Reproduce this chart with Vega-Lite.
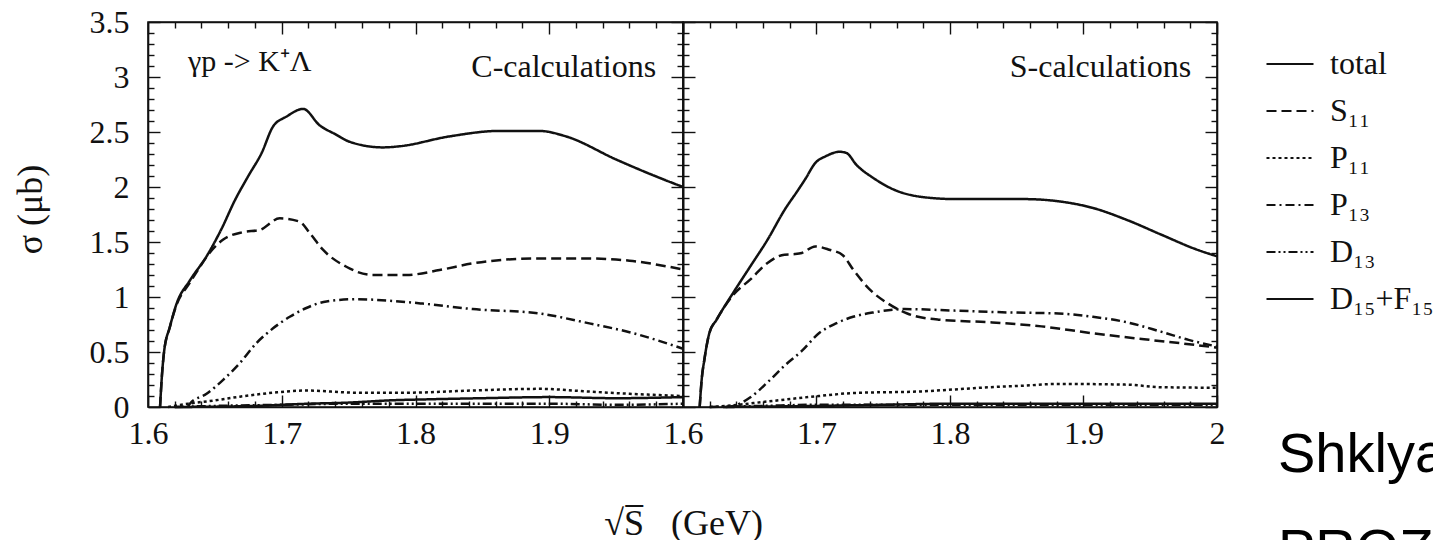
{
  "$schema": "https://vega.github.io/schema/vega-lite/v6.json",
  "autosize": "none",
  "padding": {"left": 148, "top": 22, "right": 1285, "bottom": 518},
  "background": "white",
  "config": {
    "axis": {"domainColor": "#111", "domainWidth": 1.6, "tickColor": "#111", "tickWidth": 1.4, "labelFont": "Liberation Serif", "labelFontSize": 32, "labelColor": "#111", "titleFont": "Liberation Serif", "titleFontSize": 36, "titleFontWeight": "normal", "titleColor": "#111", "grid": false, "labelOverlap": false, "labelFlush": false},
    "view": {"stroke": "#111", "strokeWidth": 1.6}
  },
  "datasets": {
    "note": [{}],
    "cCalc": [
      {"comp": "total", "s": 1.609, "sigma": 0}, {"comp": "total", "s": 1.6105, "sigma": 0.3}, {"comp": "total", "s": 1.612, "sigma": 0.5}, {"comp": "total", "s": 1.6164, "sigma": 0.73}, {"comp": "total", "s": 1.6214, "sigma": 0.94}, {"comp": "total", "s": 1.6313, "sigma": 1.15}, {"comp": "total", "s": 1.6438, "sigma": 1.37}, {"comp": "total", "s": 1.655, "sigma": 1.62}, {"comp": "total", "s": 1.665, "sigma": 1.88}, {"comp": "total", "s": 1.675, "sigma": 2.1}, {"comp": "total", "s": 1.685, "sigma": 2.31}, {"comp": "total", "s": 1.6935, "sigma": 2.55}, {"comp": "total", "s": 1.7035, "sigma": 2.64}, {"comp": "total", "s": 1.716, "sigma": 2.71}, {"comp": "total", "s": 1.7284, "sigma": 2.56}, {"comp": "total", "s": 1.74, "sigma": 2.48}, {"comp": "total", "s": 1.751, "sigma": 2.41}, {"comp": "total", "s": 1.7756, "sigma": 2.36}, {"comp": "total", "s": 1.788, "sigma": 2.37}, {"comp": "total", "s": 1.8254, "sigma": 2.46}, {"comp": "total", "s": 1.8627, "sigma": 2.51}, {"comp": "total", "s": 1.8925, "sigma": 2.51}, {"comp": "total", "s": 1.9125, "sigma": 2.46}, {"comp": "total", "s": 1.95, "sigma": 2.25}, {"comp": "total", "s": 1.975, "sigma": 2.12}, {"comp": "total", "s": 2.0, "sigma": 2.0},
      {"comp": "S₁₁", "s": 1.609, "sigma": 0}, {"comp": "S₁₁", "s": 1.6105, "sigma": 0.3}, {"comp": "S₁₁", "s": 1.612, "sigma": 0.5}, {"comp": "S₁₁", "s": 1.6164, "sigma": 0.73}, {"comp": "S₁₁", "s": 1.6214, "sigma": 0.93}, {"comp": "S₁₁", "s": 1.6313, "sigma": 1.13}, {"comp": "S₁₁", "s": 1.6375, "sigma": 1.25}, {"comp": "S₁₁", "s": 1.646, "sigma": 1.4}, {"comp": "S₁₁", "s": 1.656, "sigma": 1.52}, {"comp": "S₁₁", "s": 1.671, "sigma": 1.59}, {"comp": "S₁₁", "s": 1.6836, "sigma": 1.61}, {"comp": "S₁₁", "s": 1.6985, "sigma": 1.715}, {"comp": "S₁₁", "s": 1.7134, "sigma": 1.685}, {"comp": "S₁₁", "s": 1.721, "sigma": 1.58}, {"comp": "S₁₁", "s": 1.7308, "sigma": 1.43}, {"comp": "S₁₁", "s": 1.7483, "sigma": 1.275}, {"comp": "S₁₁", "s": 1.768, "sigma": 1.2}, {"comp": "S₁₁", "s": 1.793, "sigma": 1.2}, {"comp": "S₁₁", "s": 1.818, "sigma": 1.245}, {"comp": "S₁₁", "s": 1.8428, "sigma": 1.306}, {"comp": "S₁₁", "s": 1.8677, "sigma": 1.34}, {"comp": "S₁₁", "s": 1.8925, "sigma": 1.35}, {"comp": "S₁₁", "s": 1.93, "sigma": 1.35}, {"comp": "S₁₁", "s": 1.96, "sigma": 1.33}, {"comp": "S₁₁", "s": 2.0, "sigma": 1.25},
      {"comp": "P₁₃", "s": 1.63, "sigma": 0}, {"comp": "P₁₃", "s": 1.6313, "sigma": 0.03}, {"comp": "P₁₃", "s": 1.6438, "sigma": 0.12}, {"comp": "P₁₃", "s": 1.656, "sigma": 0.245}, {"comp": "P₁₃", "s": 1.6687, "sigma": 0.4}, {"comp": "P₁₃", "s": 1.681, "sigma": 0.58}, {"comp": "P₁₃", "s": 1.6935, "sigma": 0.715}, {"comp": "P₁₃", "s": 1.706, "sigma": 0.82}, {"comp": "P₁₃", "s": 1.7184, "sigma": 0.9}, {"comp": "P₁₃", "s": 1.7334, "sigma": 0.96}, {"comp": "P₁₃", "s": 1.7557, "sigma": 0.98}, {"comp": "P₁₃", "s": 1.7806, "sigma": 0.966}, {"comp": "P₁₃", "s": 1.8054, "sigma": 0.94}, {"comp": "P₁₃", "s": 1.8428, "sigma": 0.89}, {"comp": "P₁₃", "s": 1.8925, "sigma": 0.85}, {"comp": "P₁₃", "s": 1.93, "sigma": 0.76}, {"comp": "P₁₃", "s": 1.96, "sigma": 0.68}, {"comp": "P₁₃", "s": 2.0, "sigma": 0.53},
      {"comp": "P₁₁", "s": 1.615, "sigma": 0}, {"comp": "P₁₁", "s": 1.63, "sigma": 0.03}, {"comp": "P₁₁", "s": 1.65, "sigma": 0.06}, {"comp": "P₁₁", "s": 1.6687, "sigma": 0.094}, {"comp": "P₁₁", "s": 1.6935, "sigma": 0.13}, {"comp": "P₁₁", "s": 1.718, "sigma": 0.15}, {"comp": "P₁₁", "s": 1.7557, "sigma": 0.13}, {"comp": "P₁₁", "s": 1.793, "sigma": 0.13}, {"comp": "P₁₁", "s": 1.8428, "sigma": 0.15}, {"comp": "P₁₁", "s": 1.8925, "sigma": 0.165}, {"comp": "P₁₁", "s": 1.93, "sigma": 0.14}, {"comp": "P₁₁", "s": 1.96, "sigma": 0.12}, {"comp": "P₁₁", "s": 2.0, "sigma": 0.1},
      {"comp": "D₁₃", "s": 1.62, "sigma": 0}, {"comp": "D₁₃", "s": 1.65, "sigma": 0.01}, {"comp": "D₁₃", "s": 1.7, "sigma": 0.02}, {"comp": "D₁₃", "s": 1.75, "sigma": 0.03}, {"comp": "D₁₃", "s": 1.8, "sigma": 0.03}, {"comp": "D₁₃", "s": 1.85, "sigma": 0.03}, {"comp": "D₁₃", "s": 1.9, "sigma": 0.03}, {"comp": "D₁₃", "s": 1.95, "sigma": 0.02}, {"comp": "D₁₃", "s": 2.0, "sigma": 0.03},
      {"comp": "D₁₅+F₁₅", "s": 1.62, "sigma": 0}, {"comp": "D₁₅+F₁₅", "s": 1.68, "sigma": 0.01}, {"comp": "D₁₅+F₁₅", "s": 1.7, "sigma": 0.02}, {"comp": "D₁₅+F₁₅", "s": 1.72, "sigma": 0.03}, {"comp": "D₁₅+F₁₅", "s": 1.75, "sigma": 0.04}, {"comp": "D₁₅+F₁₅", "s": 1.78, "sigma": 0.06}, {"comp": "D₁₅+F₁₅", "s": 1.81, "sigma": 0.07}, {"comp": "D₁₅+F₁₅", "s": 1.85, "sigma": 0.08}, {"comp": "D₁₅+F₁₅", "s": 1.9, "sigma": 0.09}, {"comp": "D₁₅+F₁₅", "s": 1.95, "sigma": 0.08}, {"comp": "D₁₅+F₁₅", "s": 2.0, "sigma": 0.09}
    ],
    "sCalc": [
      {"comp": "total", "s": 1.6125, "sigma": 0}, {"comp": "total", "s": 1.614, "sigma": 0.25}, {"comp": "total", "s": 1.616, "sigma": 0.43}, {"comp": "total", "s": 1.6197, "sigma": 0.67}, {"comp": "total", "s": 1.625, "sigma": 0.79}, {"comp": "total", "s": 1.6377, "sigma": 1.04}, {"comp": "total", "s": 1.6505, "sigma": 1.28}, {"comp": "total", "s": 1.6633, "sigma": 1.52}, {"comp": "total", "s": 1.676, "sigma": 1.79}, {"comp": "total", "s": 1.6864, "sigma": 1.976}, {"comp": "total", "s": 1.6915, "sigma": 2.07}, {"comp": "total", "s": 1.6992, "sigma": 2.22}, {"comp": "total", "s": 1.707, "sigma": 2.28}, {"comp": "total", "s": 1.7172, "sigma": 2.32}, {"comp": "total", "s": 1.7223, "sigma": 2.31}, {"comp": "total", "s": 1.73, "sigma": 2.2}, {"comp": "total", "s": 1.7428, "sigma": 2.08}, {"comp": "total", "s": 1.758, "sigma": 1.976}, {"comp": "total", "s": 1.7787, "sigma": 1.91}, {"comp": "total", "s": 1.8044, "sigma": 1.89}, {"comp": "total", "s": 1.83, "sigma": 1.89}, {"comp": "total", "s": 1.8556, "sigma": 1.89}, {"comp": "total", "s": 1.8813, "sigma": 1.87}, {"comp": "total", "s": 1.9069, "sigma": 1.81}, {"comp": "total", "s": 1.9326, "sigma": 1.7}, {"comp": "total", "s": 1.9582, "sigma": 1.567}, {"comp": "total", "s": 1.9838, "sigma": 1.436}, {"comp": "total", "s": 2.0, "sigma": 1.37},
      {"comp": "S₁₁", "s": 1.6125, "sigma": 0}, {"comp": "S₁₁", "s": 1.614, "sigma": 0.25}, {"comp": "S₁₁", "s": 1.616, "sigma": 0.43}, {"comp": "S₁₁", "s": 1.6197, "sigma": 0.67}, {"comp": "S₁₁", "s": 1.625, "sigma": 0.79}, {"comp": "S₁₁", "s": 1.6377, "sigma": 1.02}, {"comp": "S₁₁", "s": 1.6505, "sigma": 1.16}, {"comp": "S₁₁", "s": 1.6633, "sigma": 1.31}, {"comp": "S₁₁", "s": 1.676, "sigma": 1.385}, {"comp": "S₁₁", "s": 1.6838, "sigma": 1.39}, {"comp": "S₁₁", "s": 1.689, "sigma": 1.4}, {"comp": "S₁₁", "s": 1.699, "sigma": 1.46}, {"comp": "S₁₁", "s": 1.7095, "sigma": 1.43}, {"comp": "S₁₁", "s": 1.7197, "sigma": 1.38}, {"comp": "S₁₁", "s": 1.7274, "sigma": 1.25}, {"comp": "S₁₁", "s": 1.74, "sigma": 1.067}, {"comp": "S₁₁", "s": 1.753, "sigma": 0.945}, {"comp": "S₁₁", "s": 1.768, "sigma": 0.85}, {"comp": "S₁₁", "s": 1.7915, "sigma": 0.794}, {"comp": "S₁₁", "s": 1.83, "sigma": 0.77}, {"comp": "S₁₁", "s": 1.8685, "sigma": 0.733}, {"comp": "S₁₁", "s": 1.907, "sigma": 0.67}, {"comp": "S₁₁", "s": 1.9454, "sigma": 0.616}, {"comp": "S₁₁", "s": 1.9838, "sigma": 0.564}, {"comp": "S₁₁", "s": 2.0, "sigma": 0.54},
      {"comp": "P₁₃", "s": 1.632, "sigma": 0}, {"comp": "P₁₃", "s": 1.638, "sigma": 0.01}, {"comp": "P₁₃", "s": 1.6505, "sigma": 0.088}, {"comp": "P₁₃", "s": 1.6633, "sigma": 0.224}, {"comp": "P₁₃", "s": 1.676, "sigma": 0.375}, {"comp": "P₁₃", "s": 1.689, "sigma": 0.51}, {"comp": "P₁₃", "s": 1.7018, "sigma": 0.67}, {"comp": "P₁₃", "s": 1.7146, "sigma": 0.76}, {"comp": "P₁₃", "s": 1.7274, "sigma": 0.82}, {"comp": "P₁₃", "s": 1.7428, "sigma": 0.86}, {"comp": "P₁₃", "s": 1.766, "sigma": 0.89}, {"comp": "P₁₃", "s": 1.8044, "sigma": 0.876}, {"comp": "P₁₃", "s": 1.8428, "sigma": 0.86}, {"comp": "P₁₃", "s": 1.8813, "sigma": 0.85}, {"comp": "P₁₃", "s": 1.907, "sigma": 0.82}, {"comp": "P₁₃", "s": 1.9326, "sigma": 0.77}, {"comp": "P₁₃", "s": 1.958, "sigma": 0.685}, {"comp": "P₁₃", "s": 1.9787, "sigma": 0.61}, {"comp": "P₁₃", "s": 2.0, "sigma": 0.55},
      {"comp": "P₁₁", "s": 1.62, "sigma": 0}, {"comp": "P₁₁", "s": 1.6326, "sigma": 0.01}, {"comp": "P₁₁", "s": 1.6633, "sigma": 0.05}, {"comp": "P₁₁", "s": 1.7018, "sigma": 0.1}, {"comp": "P₁₁", "s": 1.7274, "sigma": 0.127}, {"comp": "P₁₁", "s": 1.7787, "sigma": 0.142}, {"comp": "P₁₁", "s": 1.804, "sigma": 0.16}, {"comp": "P₁₁", "s": 1.83, "sigma": 0.18}, {"comp": "P₁₁", "s": 1.8556, "sigma": 0.194}, {"comp": "P₁₁", "s": 1.88, "sigma": 0.21}, {"comp": "P₁₁", "s": 1.9326, "sigma": 0.203}, {"comp": "P₁₁", "s": 1.958, "sigma": 0.18}, {"comp": "P₁₁", "s": 2.0, "sigma": 0.175},
      {"comp": "D₁₃", "s": 1.62, "sigma": 0}, {"comp": "D₁₃", "s": 1.66, "sigma": 0.01}, {"comp": "D₁₃", "s": 1.7, "sigma": 0.02}, {"comp": "D₁₃", "s": 1.75, "sigma": 0.02}, {"comp": "D₁₃", "s": 1.8, "sigma": 0.02}, {"comp": "D₁₃", "s": 1.85, "sigma": 0.02}, {"comp": "D₁₃", "s": 1.9, "sigma": 0.02}, {"comp": "D₁₃", "s": 1.95, "sigma": 0.02}, {"comp": "D₁₃", "s": 2.0, "sigma": 0.02},
      {"comp": "D₁₅+F₁₅", "s": 1.63, "sigma": 0}, {"comp": "D₁₅+F₁₅", "s": 1.7, "sigma": 0.01}, {"comp": "D₁₅+F₁₅", "s": 1.75, "sigma": 0.02}, {"comp": "D₁₅+F₁₅", "s": 1.8, "sigma": 0.03}, {"comp": "D₁₅+F₁₅", "s": 1.85, "sigma": 0.03}, {"comp": "D₁₅+F₁₅", "s": 1.9, "sigma": 0.03}, {"comp": "D₁₅+F₁₅", "s": 1.95, "sigma": 0.03}, {"comp": "D₁₅+F₁₅", "s": 2.0, "sigma": 0.03}
    ]
  },
  "spacing": 0,
  "bounds": "flush",
  "resolve": {"scale": {"strokeDash": "shared"}, "legend": {"strokeDash": "shared"}},
  "hconcat": [
    {
      "width": 535,
      "height": 385,
      "resolve": {"axis": {"x": "independent", "y": "independent"}},
      "layer": [
        {
          "data": {"name": "cCalc"},
          "mark": {"type": "line", "color": "#111", "strokeWidth": 2.5, "interpolate": "monotone"},
          "encoding": {
            "x": {"field": "s", "type": "quantitative", "scale": {"domain": [1.6, 2.0], "nice": false, "zero": false},
              "axis": {"orient": "bottom", "values": [1.6,1.62,1.64,1.66,1.68,1.7,1.72,1.74,1.76,1.78,1.8,1.82,1.84,1.86,1.88,1.9,1.92,1.94,1.96,1.98,2.0],
                "tickSize": {"condition": {"test": "abs(datum.value*10-round(datum.value*10))<0.001", "value": -12}, "value": -6},
                "labelExpr": "abs(datum.value*10-round(datum.value*10))<0.001 && datum.value<1.99 ? format(datum.value,'~g') : ''",
                "labelPadding": 23, "title": "√S̅\u00a0\u00a0\u00a0(GeV)", "titleAnchor": "end", "titleAlign": "center", "titleX": 535, "titlePadding": 51}},
            "y": {"field": "sigma", "type": "quantitative", "scale": {"domain": [0, 3.5], "nice": false, "zero": false},
              "axis": {"orient": "left", "values": [0,0.1,0.2,0.3,0.4,0.5,0.6,0.7,0.8,0.9,1,1.1,1.2,1.3,1.4,1.5,1.6,1.7,1.8,1.9,2,2.1,2.2,2.3,2.4,2.5,2.6,2.7,2.8,2.9,3,3.1,3.2,3.3,3.4,3.5],
                "tickSize": {"condition": {"test": "abs(datum.value*2-round(datum.value*2))<0.001", "value": -12}, "value": -6},
                "labelExpr": "abs(datum.value*2-round(datum.value*2))<0.001 ? format(datum.value,'~g') : ''",
                "labelPadding": 31, "title": "σ\u00a0(μb)", "titleFontSize": 36, "titlePadding": 40, "titleY": 187}},
            "strokeDash": {"field": "comp", "type": "nominal",
              "scale": {"domain": ["total", "S₁₁", "P₁₁", "P₁₃", "D₁₃", "D₁₅+F₁₅"], "range": [[1, 0], [10, 5], [3, 3], [9, 4, 2, 4], [9, 3, 2, 3, 2, 3], [1, 0]]},
              "legend": {"orient": "none", "legendX": 1117, "legendY": 17, "title": null, "labelFont": "Liberation Serif", "labelFontSize": 32, "labelColor": "#111", "symbolType": "stroke", "symbolSize": 2209, "symbolStrokeWidth": 2.2, "symbolStrokeColor": "#111", "rowPadding": 6, "labelOffset": 15}}
          }
        },
        {
          "data": {"name": "note"},
          "mark": {"type": "text", "text": "C-calculations", "align": "right", "baseline": "middle", "font": "Liberation Serif", "fontSize": 32, "color": "#111"},
          "encoding": {
            "x": {"datum": 1.9799, "type": "quantitative", "scale": {"domain": [1.6, 2.0], "nice": false, "zero": false},
              "axis": {"orient": "top", "values": [1.6,1.62,1.64,1.66,1.68,1.7,1.72,1.74,1.76,1.78,1.8,1.82,1.84,1.86,1.88,1.9,1.92,1.94,1.96,1.98,2.0],
                "tickSize": {"condition": {"test": "abs(datum.value*10-round(datum.value*10))<0.001", "value": -12}, "value": -6},
                "labels": false, "title": null}},
            "y": {"datum": 3.09, "type": "quantitative", "scale": {"domain": [0, 3.5], "nice": false, "zero": false},
              "axis": {"orient": "right", "values": [0,0.1,0.2,0.3,0.4,0.5,0.6,0.7,0.8,0.9,1,1.1,1.2,1.3,1.4,1.5,1.6,1.7,1.8,1.9,2,2.1,2.2,2.3,2.4,2.5,2.6,2.7,2.8,2.9,3,3.1,3.2,3.3,3.4,3.5],
                "tickSize": {"condition": {"test": "abs(datum.value*2-round(datum.value*2))<0.001", "value": -12}, "value": -6},
                "labels": false, "title": null}}
          }
        },
        {
          "data": {"name": "note"},
          "mark": {"type": "text", "text": "γp -> K⁺Λ", "align": "left", "baseline": "middle", "font": "Liberation Serif", "fontSize": 30, "color": "#111"},
          "encoding": {
            "x": {"datum": 1.6299, "type": "quantitative", "axis": null},
            "y": {"datum": 3.136, "type": "quantitative", "axis": null}
          }
        }
      ]
    },
    {
      "width": 534,
      "height": 385,
      "resolve": {"axis": {"x": "independent", "y": "independent"}},
      "layer": [
        {
          "data": {"name": "sCalc"},
          "mark": {"type": "line", "color": "#111", "strokeWidth": 2.5, "interpolate": "monotone"},
          "encoding": {
            "x": {"field": "s", "type": "quantitative", "scale": {"domain": [1.6, 2.0], "nice": false, "zero": false},
              "axis": {"orient": "bottom", "values": [1.6,1.62,1.64,1.66,1.68,1.7,1.72,1.74,1.76,1.78,1.8,1.82,1.84,1.86,1.88,1.9,1.92,1.94,1.96,1.98,2.0],
                "tickSize": {"condition": {"test": "abs(datum.value*10-round(datum.value*10))<0.001", "value": -12}, "value": -6},
                "labelExpr": "abs(datum.value*10-round(datum.value*10))<0.001 ? format(datum.value,'~g') : ''",
                "labelPadding": 23, "title": null}},
            "y": {"field": "sigma", "type": "quantitative", "scale": {"domain": [0, 3.5], "nice": false, "zero": false},
              "axis": {"orient": "left", "values": [0,0.1,0.2,0.3,0.4,0.5,0.6,0.7,0.8,0.9,1,1.1,1.2,1.3,1.4,1.5,1.6,1.7,1.8,1.9,2,2.1,2.2,2.3,2.4,2.5,2.6,2.7,2.8,2.9,3,3.1,3.2,3.3,3.4,3.5],
                "tickSize": {"condition": {"test": "abs(datum.value*2-round(datum.value*2))<0.001", "value": -12}, "value": -6},
                "labels": false, "title": null}},
            "strokeDash": {"field": "comp", "type": "nominal",
              "scale": {"domain": ["total", "S₁₁", "P₁₁", "P₁₃", "D₁₃", "D₁₅+F₁₅"], "range": [[1, 0], [10, 5], [3, 3], [9, 4, 2, 4], [9, 3, 2, 3, 2, 3], [1, 0]]}}
          }
        },
        {
          "data": {"name": "note"},
          "mark": {"type": "text", "text": "S-calculations", "align": "right", "baseline": "middle", "font": "Liberation Serif", "fontSize": 32, "color": "#111"},
          "encoding": {
            "x": {"datum": 1.9806, "type": "quantitative", "scale": {"domain": [1.6, 2.0], "nice": false, "zero": false},
              "axis": {"orient": "top", "values": [1.6,1.62,1.64,1.66,1.68,1.7,1.72,1.74,1.76,1.78,1.8,1.82,1.84,1.86,1.88,1.9,1.92,1.94,1.96,1.98,2.0],
                "tickSize": {"condition": {"test": "abs(datum.value*10-round(datum.value*10))<0.001", "value": -12}, "value": -6},
                "labels": false, "title": null}},
            "y": {"datum": 3.09, "type": "quantitative", "scale": {"domain": [0, 3.5], "nice": false, "zero": false},
              "axis": {"orient": "right", "values": [0,0.1,0.2,0.3,0.4,0.5,0.6,0.7,0.8,0.9,1,1.1,1.2,1.3,1.4,1.5,1.6,1.7,1.8,1.9,2,2.1,2.2,2.3,2.4,2.5,2.6,2.7,2.8,2.9,3,3.1,3.2,3.3,3.4,3.5],
                "tickSize": {"condition": {"test": "abs(datum.value*2-round(datum.value*2))<0.001", "value": -12}, "value": -6},
                "labels": false, "title": null}}
          }
        },
        {
          "data": {"name": "note"},
          "mark": {"type": "text", "text": "Shklyar et al.", "align": "left", "baseline": "alphabetic", "font": "Liberation Sans", "fontSize": 56, "color": "#000"},
          "encoding": {
            "x": {"datum": 2.0457, "type": "quantitative", "axis": null},
            "y": {"datum": -0.591, "type": "quantitative", "axis": null}
          }
        },
        {
          "data": {"name": "note"},
          "mark": {"type": "text", "text": "PROZOROV", "align": "left", "baseline": "alphabetic", "font": "Liberation Sans", "fontSize": 56, "color": "#000"},
          "encoding": {
            "x": {"datum": 2.0457, "type": "quantitative", "axis": null},
            "y": {"datum": -1.464, "type": "quantitative", "axis": null}
          }
        }
      ]
    }
  ]
}
